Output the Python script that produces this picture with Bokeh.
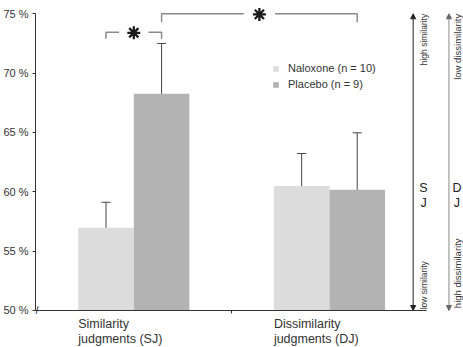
import math
from bokeh.plotting import figure
from bokeh.models import (ColumnDataSource, Range1d, FixedTicker, PrintfTickFormatter,
                          Whisker, TeeHead, Legend, LegendItem, Arrow, NormalHead, Label)
from bokeh.embed import file_html
from bokeh.resources import INLINE

# ---------------- data ----------------
groups = ["Similarity\njudgments (SJ)", "Dissimilarity\njudgments (DJ)"]
naloxone = [56.97, 60.50]
naloxone_lo = [55.14, 57.94]
naloxone_hi = [59.12, 63.23]
placebo = [68.26, 60.17]
placebo_lo = [64.13, 55.42]
placebo_hi = [72.50, 64.97]
series_labels = ["Naloxone (n = 10)", "Placebo (n = 9)"]
y_ticks = [50, 55, 60, 65, 70, 75]

FONT = "Liberation Sans"
C_NAL = "#dcdcdc"
C_PLA = "#b3b3b3"
C_AX = "#333333"

gx = [1, 2]
bw = 0.284
x_nal = [g - bw / 2 for g in gx]
x_pla = [g + bw / 2 for g in gx]

PX = 1 / 11.867  # one pixel in y data units
p = figure(width=463, height=347, output_backend="svg", toolbar_location=None,
           x_range=Range1d(0.4975, 2.6853), y_range=Range1d(50 - 37 * PX, 76.12),
           min_border_left=32, min_border_right=0, min_border_top=0, min_border_bottom=0)
p.outline_line_color = None
p.xgrid.visible = False
p.ygrid.visible = False
p.background_fill_color = "white"

src_n = ColumnDataSource(dict(x=x_nal, top=naloxone, lo=naloxone_lo, hi=naloxone_hi))
src_p = ColumnDataSource(dict(x=x_pla, top=placebo, lo=placebo_lo, hi=placebo_hi))

r_n = p.vbar(x="x", top="top", bottom=50, width=bw, source=src_n, fill_color=C_NAL, line_color=None)
r_p = p.vbar(x="x", top="top", bottom=50, width=bw, source=src_p, fill_color=C_PLA, line_color=None)

for src in (src_n, src_p):
    w = Whisker(base="x", upper="hi", lower="lo", source=src, line_color="#444444", line_width=1,
                upper_head=TeeHead(size=9, line_color="#444444", line_width=1),
                lower_head=TeeHead(size=9, line_color="#444444", line_width=1))
    p.add_layout(w)

# significance brackets
def bracket(xa, xb, yb, drop, gap):
    xm = (xa + xb) / 2
    p.multi_line(xs=[[xa, xa, xm - gap], [xm + gap, xb, xb]],
                 ys=[[yb - drop, yb, yb], [yb, yb, yb - drop]],
                 line_color="#8a8a8a", line_width=1.5)
    p.scatter(x=[xm], y=[yb - 0.05], marker="asterisk", size=13, angle=math.pi / 2,
              line_color="#1a1a1a", line_width=2.3)

bracket(x_nal[0], x_pla[0], 73.45, 0.55, 0.075)
bracket(x_pla[0], x_pla[1], 75.0, 0.72, 0.08)

# y axis
yax = p.yaxis[0]
yax.ticker = FixedTicker(ticks=y_ticks)
yax.formatter = PrintfTickFormatter(format="%d %%")
yax.bounds = (50, 75)
yax.major_tick_in = 0
yax.major_tick_out = 3
yax.minor_tick_line_color = None
yax.axis_line_color = C_AX
yax.major_tick_line_color = C_AX
yax.major_label_standoff = 4
yax.major_label_text_font = FONT
yax.major_label_text_font_size = "11px"
yax.major_label_text_color = C_AX

# x axis drawn at the 50 % baseline
xax = p.xaxis[0]
xax.fixed_location = 50
xax.ticker = FixedTicker(ticks=[], minor_ticks=[1.5])
xax.bounds = (0.4975, 2.4975)
xax.major_tick_line_color = None
xax.major_tick_out = 0
xax.major_label_standoff = 0
xax.major_label_text_font_size = "0px"
xax.minor_tick_in = 0
xax.minor_tick_out = 3
xax.minor_tick_line_color = C_AX
xax.axis_line_color = C_AX

# category labels, left-aligned under the left edge of each group
label_pos = [g - bw for g in gx]
for i, lab in enumerate(groups):
    for j, line in enumerate(lab.split("\n")):
        p.add_layout(Label(x=label_pos[i], y=50 - (13.5 + 15.0 * j) * PX, text=line,
                           text_align="left", text_baseline="alphabetic", text_font=FONT,
                           text_font_size="12.5px", text_color=C_AX))

# axis break mark
p.add_layout(Label(x=0.4975, y=50, text="//", text_font=FONT, text_font_size="11px",
                   text_align="center", text_baseline="middle", text_color="#222222"))

# legend
legend = Legend(items=[LegendItem(label=series_labels[0], renderers=[r_n]),
                       LegendItem(label=series_labels[1], renderers=[r_p])],
                location=(237, 257), glyph_width=7, glyph_height=7, label_standoff=9,
                label_height=12, spacing=4, padding=0, margin=0,
                border_line_color=None, background_fill_alpha=0,
                label_text_font=FONT, label_text_font_size="11px", label_text_color=C_AX)
p.add_layout(legend, "center")

# right-hand scale annotations
x_sj, x_dj = 2.428, 2.611
p.add_layout(Arrow(x_start=x_sj, y_start=50, x_end=x_sj, y_end=75, line_color="#222222", line_width=1,
                   start=NormalHead(size=5, fill_color="#222222", line_color="#222222"),
                   end=NormalHead(size=5, fill_color="#222222", line_color="#222222")))
p.add_layout(Arrow(x_start=x_dj, y_start=50, x_end=x_dj, y_end=75, line_color="#888888", line_width=1,
                   start=NormalHead(size=5, fill_color="#666666", line_color="#666666"),
                   end=NormalHead(size=5, fill_color="#666666", line_color="#666666")))

def vtext(x, y, t, align, size):
    p.add_layout(Label(x=x, y=y, text=t, angle=math.pi / 2, text_align=align, text_baseline="middle",
                       text_font=FONT, text_font_size=size, text_color="#333333"))

vtext(2.481, 75, "high similarity", "right", "8.5px")
vtext(2.481, 50.1, "low similarity", "left", "8.5px")
vtext(2.6555, 75, "low dissimilarity", "right", "9.5px")
vtext(2.6555, 56.07, "high dissimilarity", "right", "9.5px")

for xx, t1, t2 in ((2.481, "S", "J"), (2.652, "D", "J")):
    p.add_layout(Label(x=xx, y=60.35, text=t1, text_align="center", text_baseline="middle",
                       text_font=FONT, text_font_size="12.5px", text_color="#222222"))
    p.add_layout(Label(x=xx, y=59.05, text=t2, text_align="center", text_baseline="middle",
                       text_font=FONT, text_font_size="12.5px", text_color="#222222"))

open("out.html", "w").write(file_html(p, INLINE))
